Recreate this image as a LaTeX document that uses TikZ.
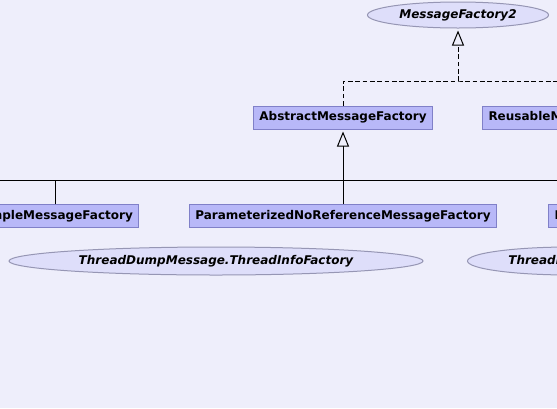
\documentclass[tikz,border=0pt]{standalone}
\usepackage{fontspec}
\setmainfont{DejaVu Sans}
\usetikzlibrary{arrows.meta,positioning,shapes.geometric}
\definecolor{bgcolor}{RGB}{238,238,251}
\definecolor{classfill}{RGB}{184,184,248}
\definecolor{classdraw}{RGB}{128,128,200}
\definecolor{ifacefill}{RGB}{222,222,250}
\definecolor{ifacedraw}{RGB}{150,150,180}

\begin{document}
\begin{tikzpicture}[x=0.75pt,y=-0.75pt,
  klass/.style={rectangle,draw=classdraw,fill=classfill,line width=0.75pt,
                minimum height=17.25pt,inner xsep=4.5pt,inner ysep=0pt,
                font=\fontsize{9}{10}\selectfont\bfseries},
  iface/.style={ellipse,draw=ifacedraw,fill=ifacefill,line width=0.75pt,
                inner sep=0pt,font=\fontsize{9}{10}\selectfont\bfseries\itshape},
  inherit/.style={-{Triangle[open,length=11.25pt,width=9pt]},line width=0.75pt,
                  shorten >=1.5pt},
  realize/.style={inherit,dash pattern=on 3.5pt off 2pt},
  link/.style={line width=0.75pt}
]
\fill[bgcolor] (0,0) rectangle (557,408);
\useasboundingbox (0,0) rectangle (557,408);
\clip (0,0) rectangle (557,408);
% interfaces
\node[iface,minimum width=135.75pt,minimum height=19.5pt] (mf2) at (458,15) {MessageFactory2};
\node[iface,minimum width=310.5pt,minimum height=21pt] (tinfo) at (216,261) {ThreadDumpMessage.ThreadInfoFactory};
\node[iface,minimum width=154pt,minimum height=21pt,anchor=west] (tinfo2) at (467,261) {ThreadInfoFactory};
% classes
\node[klass] (absmf) at (343,117.5) {AbstractMessageFactory};
\node[klass,anchor=west] (reusemf) at (482,117.5) {ReusableMessageFactory};
\node[klass,minimum width=123pt] (simplemf) at (55,216) {SimpleMessageFactory};
\node[klass] (pnrmf) at (343,216) {ParameterizedNoReferenceMessageFactory};
\node[klass,anchor=west] (parammf) at (548,216) {ParameterizedMessageFactory};
% joints
\coordinate (ijoint) at (458,81);
\coordinate (cjoint) at (343,180);
\coordinate (cleft) at (-20,180);
\coordinate (cright) at (600,180);
% realization
\draw[realize] (ijoint) -- (mf2);
\draw[link,dash pattern=on 3.5pt off 2pt] (absmf) |- (ijoint) -| (reusemf);
% inheritance
\draw[inherit] (cjoint) -- (absmf);
\draw[link] (cleft) -- (cright);
\draw[link] (simplemf) -- (simplemf |- cjoint);
\draw[link] (pnrmf) -- (cjoint);
\draw[link] (parammf) -- (parammf |- cjoint);
\end{tikzpicture}
\end{document}
